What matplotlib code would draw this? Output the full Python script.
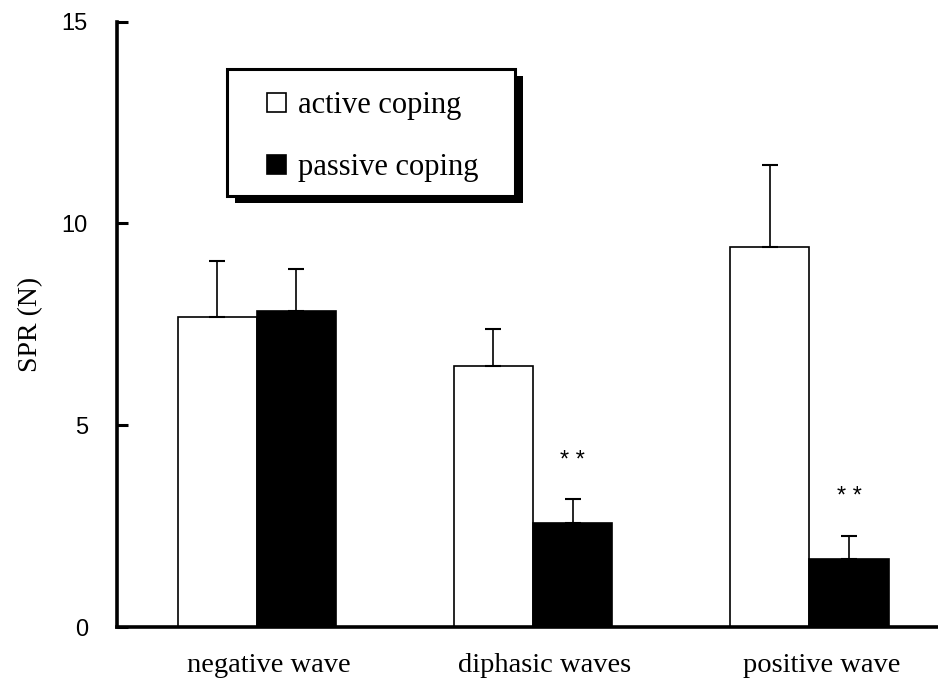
import matplotlib
matplotlib.use("Agg")
import matplotlib.pyplot as plt
from matplotlib.patches import Rectangle, Patch
from matplotlib.legend_handler import HandlerPatch
import numpy as np

categories = ["negative wave", "diphasic waves", "positive wave"]
active_mean = [7.67, 6.48, 9.41]
active_err = [1.40, 0.90, 2.04]
passive_mean = [7.83, 2.57, 1.68]
passive_err = [1.03, 0.59, 0.58]
significance = ["", "* *", "* *"]
series_labels = ["active coping", "passive coping"]
yticks = [0, 5, 10, 15]

SERIF = ["Liberation Serif", "DejaVu Serif"]
SANS = ["Liberation Sans", "DejaVu Sans"]

DPI = 100
fig = plt.figure(figsize=(9.38, 6.84), dpi=DPI)
W, H = 938, 684
ax = fig.add_axes([117 / W, 1 - 627 / H, (W - 117) / W, (627 - 21.7) / H])

x = np.arange(len(categories))
bw = 0.286

ekw = dict(ecolor="black", elinewidth=1.2, capsize=5.5, capthick=1.5)
ax.bar(x - bw / 2, active_mean, bw, color="white", edgecolor="black", linewidth=1.2,
       yerr=[np.zeros(len(active_err)), active_err], error_kw=ekw, zorder=2)
ax.bar(x + bw / 2, passive_mean, bw, color="black", edgecolor="black", linewidth=1.2,
       yerr=[np.zeros(len(passive_err)), passive_err], error_kw=ekw, zorder=2)

for i, s in enumerate(significance):
    if s:
        ax.annotate(s, xy=(x[i] + bw / 2, passive_mean[i] + passive_err[i]),
                    xytext=(0, 28), textcoords="offset points", ha="center", va="center",
                    fontsize=17, family=SANS)

ax.set_xlim(-0.505, 2.465)
ax.set_ylim(0, 15)
ax.set_yticks(yticks)
ax.set_yticklabels([str(t) for t in yticks], family=SANS, fontsize=17)
# category labels sit slightly right of the group centres in the reference
ax.set_xticks(x + 0.043)
ax.set_xticklabels(categories, family=SERIF, fontsize=20.5)

ax.tick_params(axis="y", direction="in", length=8, width=2.2, pad=21)
ax.tick_params(axis="x", length=0, pad=19)
for side in ["top", "right"]:
    ax.spines[side].set_visible(False)
for side in ["left", "bottom"]:
    ax.spines[side].set_linewidth(2.6)
ax.set_ylabel("SPR (N)", family=SERIF, fontsize=20, labelpad=13)

# legend frame with shadow
bx0, by0, bx1, by1 = 227, 69, 515, 196
fig.patches.append(Rectangle(((bx0 + 8) / W, 1 - (by1 + 7) / H),
                             (bx1 - bx0) / W, (by1 - by0) / H,
                             transform=fig.transFigure, facecolor="black", edgecolor="none", zorder=5))
fig.patches.append(Rectangle((bx0 / W, 1 - by1 / H),
                             (bx1 - bx0) / W, (by1 - by0) / H,
                             transform=fig.transFigure, facecolor="white", edgecolor="black",
                             linewidth=2.2, zorder=6))


def square(legend, orig_handle, xdescent, ydescent, width, height, fontsize):
    s = 19 * 72 / DPI
    return Rectangle((-xdescent + width - s, -ydescent + (height - s) / 2), s, s)


handles = [Patch(facecolor="white", edgecolor="black", linewidth=1.2),
           Patch(facecolor="black", edgecolor="black", linewidth=1.2)]
leg = fig.legend(handles, series_labels, loc="upper left",
                 bbox_to_anchor=(268 / W, 1 - 91 / H), frameon=False,
                 prop=dict(family=SERIF, size=22), handlelength=0.6, handleheight=0.6,
                 handletextpad=0.38, labelspacing=1.08, borderpad=0.0, borderaxespad=0,
                 handler_map={Patch: HandlerPatch(patch_func=square)})
leg.set_zorder(7)

fig.savefig("out.png", dpi=DPI)
